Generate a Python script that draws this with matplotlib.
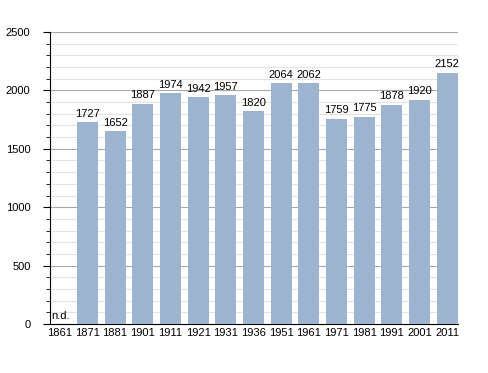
import matplotlib
matplotlib.use("Agg")
import matplotlib.pyplot as plt
from matplotlib.ticker import MultipleLocator

years = ["1861", "1871", "1881", "1901", "1911", "1921", "1931", "1936",
         "1951", "1961", "1971", "1981", "1991", "2001", "2011"]
pop = [None, 1727, 1652, 1887, 1974, 1942, 1957, 1820,
       2064, 2062, 1759, 1775, 1878, 1920, 2152]

plt.rcParams['font.family'] = ['Liberation Sans', 'DejaVu Sans']
fs = 8

fig = plt.figure(figsize=(4.88, 3.73), dpi=100)
ax = fig.add_axes([50/488, 49/373, 408/488, 292/373])

x = list(range(len(years)))
vals = [0 if v is None else v for v in pop]
ax.bar(x, vals, width=0.76, color="#9db4d0", zorder=3)

for i, v in enumerate(pop):
    if v is None:
        ax.text(i - 0.3, 25, "n.d.", fontsize=fs, ha="left", va="bottom", zorder=4)
    else:
        ax.text(i, v + 28, str(v), fontsize=fs, ha="center", va="bottom", zorder=4)

ax.set_xlim(-0.35, len(years) - 1 + 0.39)
ax.set_ylim(0, 2500)
ax.set_xticks(x)
ax.set_xticklabels(years, fontsize=fs)
ax.tick_params(axis="x", length=0, pad=3)
ax.yaxis.set_major_locator(MultipleLocator(500))
ax.yaxis.set_minor_locator(MultipleLocator(100))
ax.tick_params(axis="y", which="major", labelsize=fs, length=5, pad=9)
ax.tick_params(axis="y", which="minor", length=3)
ax.grid(axis="y", which="major", color="#a8a8a8", lw=0.8, zorder=0)
ax.grid(axis="y", which="minor", color="#e4e4e4", lw=0.8, zorder=0)

for s in ["top", "right"]:
    ax.spines[s].set_visible(False)

fig.savefig("out.png", dpi=100)
